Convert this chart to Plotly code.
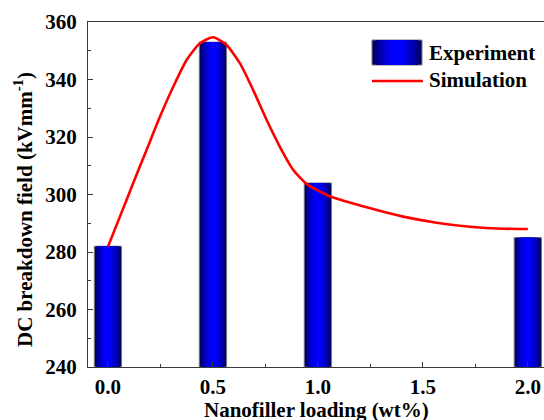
import plotly.graph_objects as go

# Data
loading = [0.0, 0.5, 1.0, 2.0]
experiment = [282, 353, 304, 285]

sim_x = [0.0, 0.057, 0.12, 0.184, 0.248, 0.311, 0.375, 0.438, 0.501, 0.565, 0.629, 0.692,
         0.756, 0.819, 0.883, 0.946, 1.01, 1.057, 1.25, 1.406, 1.565, 1.724, 1.882, 2.0]
sim_y = [281.8, 292.3, 303.9, 315.5, 327.1, 337.5, 346.8, 352.6, 354.7, 352.0, 345.6, 336.3,
         325.9, 316.6, 308.5, 303.7, 301.0, 299.4, 295.2, 292.3, 290.2, 288.8, 288.1, 288.0]

x_ticks = [0.0, 0.5, 1.0, 1.5, 2.0]
y_ticks = [240, 260, 280, 300, 320, 340, 360]

# Geometry (pixels)
W, H = 544, 420
L, R, T, B = 88, 0, 22, 53
PW, PH = W - L - R, H - T - B

def px(xp):
    return (xp - L) / PW

def py(yp):
    return (H - B - yp) / PH

bar_width = 0.13
grad_fracs = [1.0, 0.86, 0.72, 0.58, 0.44, 0.30, 0.16]
grad_cols = ["#000068", "#00008c", "#0000ad", "#0000c8", "#0000e0", "#0000f2", "#0000ff"]

fig = go.Figure()
for i, (f, c) in enumerate(zip(grad_fracs, grad_cols)):
    fig.add_trace(go.Bar(
        x=loading, y=[v - 240 for v in experiment], base=240,
        width=bar_width * f,
        marker=dict(color=c, line=dict(color="#7a7a7a" if i == 0 else c, width=1 if i == 0 else 0)),
        name="Experiment", showlegend=False, hoverinfo="skip"))

fig.add_trace(go.Scatter(
    x=sim_x, y=sim_y, mode="lines", line=dict(color="#ff0000", width=2.6, shape="spline", smoothing=0.6),
    name="Simulation", showlegend=False))

font_family = "Liberation Serif, Times New Roman, serif"
FONT = dict(family=font_family, size=21, color="black", weight="bold")

fig.update_layout(
    width=W, height=H,
    margin=dict(l=L, r=R, t=T, b=B, pad=0),
    paper_bgcolor="white", plot_bgcolor="white",
    barmode="overlay",
    font=FONT,
    showlegend=False,
)

axis_col = "#3a3a3a"
fig.update_xaxes(
    range=[-0.095, 2.077], tickvals=x_ticks, ticktext=[f"{v:.1f}" for v in x_ticks],
    ticks="inside", ticklen=5, tickwidth=1, tickcolor=axis_col,
    minor=dict(ticks="inside", ticklen=3, tickwidth=1, tickcolor=axis_col, dtick=0.25, tick0=0),
    showline=True, linecolor=axis_col, linewidth=1.2, mirror=True,
    showgrid=False, zeroline=False,
    tickfont=FONT,
    ticklabelstandoff=1,
)
fig.update_yaxes(
    range=[240, 360], tickvals=y_ticks,
    ticks="inside", ticklen=5, tickwidth=1, tickcolor=axis_col,
    minor=dict(ticks="inside", ticklen=3, tickwidth=1, tickcolor=axis_col, dtick=10, tick0=240),
    showline=True, linecolor=axis_col, linewidth=1.2, mirror=False,
    showgrid=False, zeroline=False,
    tickfont=FONT,
    ticklabelstandoff=6,
)

# Axis titles
fig.add_annotation(text="Nanofiller loading (wt%)", xref="paper", yref="paper",
                   x=0.5, y=py(410), xanchor="center", yanchor="middle", showarrow=False,
                   font=FONT)
fig.add_annotation(text="DC breakdown field (kVmm<sup>-1</sup>)", xref="paper", yref="paper",
                   x=px(23), y=py(210), xanchor="center", yanchor="middle", textangle=-90,
                   showarrow=False, font=FONT)

# Legend (manual)
sx0, sx1, sy0, sy1 = 372, 422, 40, 65
cx = (sx0 + sx1) / 2
for i, (f, c) in enumerate(zip(grad_fracs, grad_cols)):
    hw = (sx1 - sx0) / 2 * f
    fig.add_shape(type="rect", xref="paper", yref="paper",
                  x0=px(cx - hw), x1=px(cx + hw), y0=py(sy1), y1=py(sy0),
                  fillcolor=c, line=dict(color="#7a7a7a" if i == 0 else c, width=1 if i == 0 else 0))
fig.add_shape(type="line", xref="paper", yref="paper",
              x0=px(372), x1=px(423), y0=py(81), y1=py(81),
              line=dict(color="#ff0000", width=2.6))
fig.add_annotation(text="Experiment", xref="paper", yref="paper", x=px(427), y=py(53),
                   xanchor="left", yanchor="middle", showarrow=False, font=FONT)
fig.add_annotation(text="Simulation", xref="paper", yref="paper", x=px(427), y=py(80),
                   xanchor="left", yanchor="middle", showarrow=False, font=FONT)

fig.write_html("out.html")
